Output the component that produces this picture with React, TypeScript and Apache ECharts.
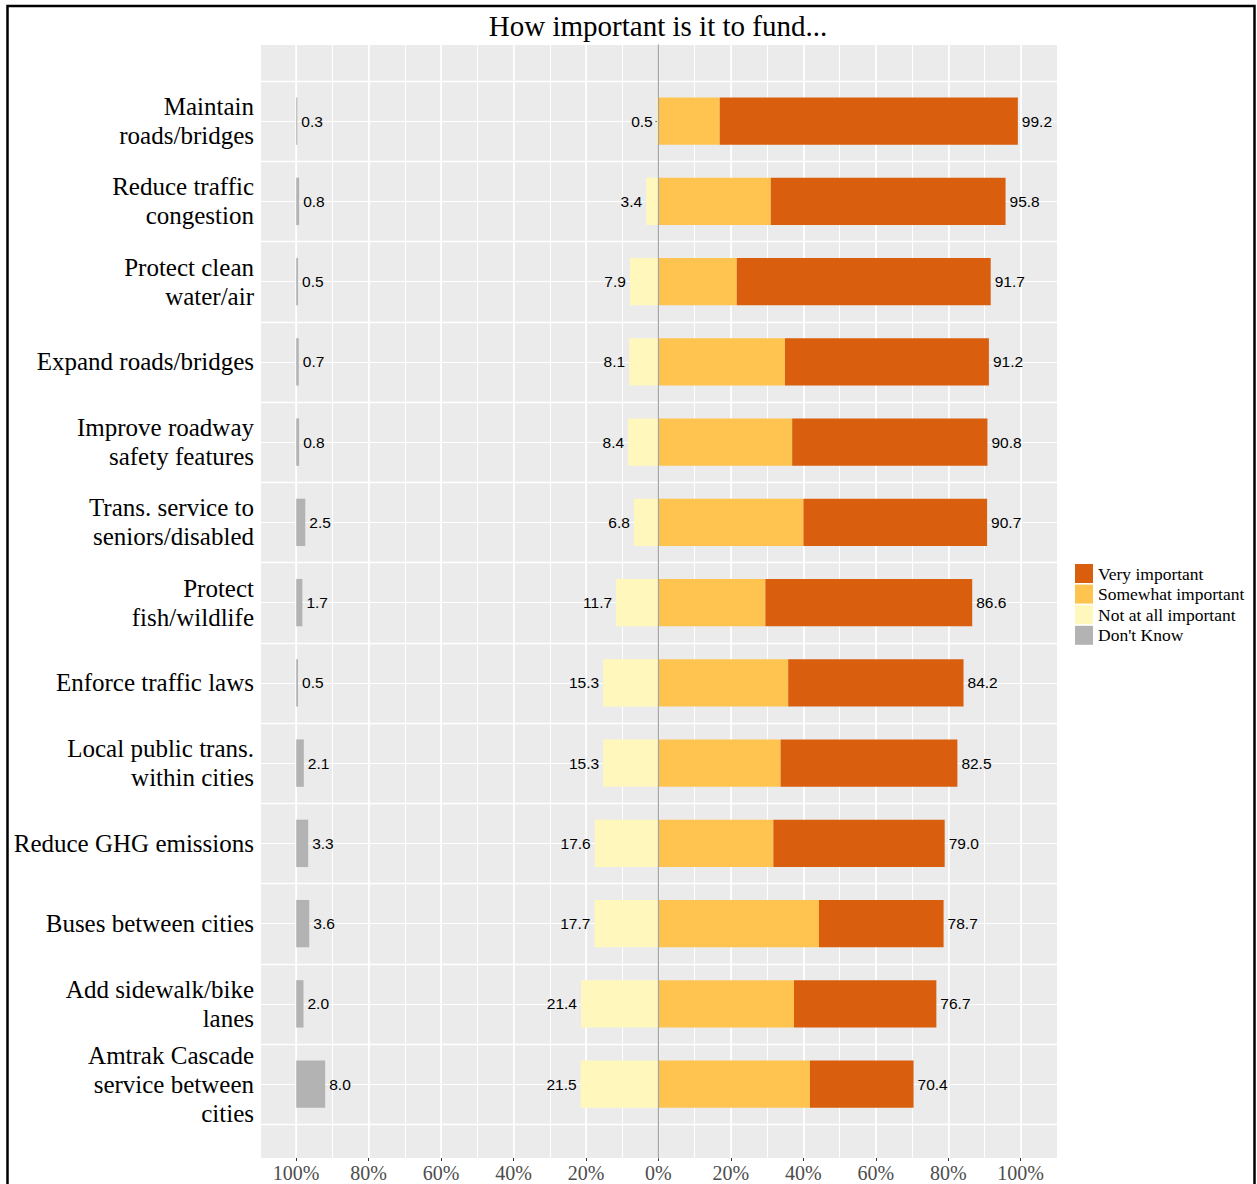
import React, { useEffect, useRef } from "react";
import * as echarts from "echarts";

const categories = [
  "Maintain\nroads/bridges",
  "Reduce traffic\ncongestion",
  "Protect clean\nwater/air",
  "Expand roads/bridges",
  "Improve roadway\nsafety features",
  "Trans. service to\nseniors/disabled",
  "Protect\nfish/wildlife",
  "Enforce traffic laws",
  "Local public trans.\nwithin cities",
  "Reduce GHG emissions",
  "Buses between cities",
  "Add sidewalk/bike\nlanes",
  "Amtrak Cascade\nservice between\ncities",
];
const dontKnow = [0.3, 0.8, 0.5, 0.7, 0.8, 2.5, 1.7, 0.5, 2.1, 3.3, 3.6, 2.0, 8.0];
const notAtAll = [0.5, 3.4, 7.9, 8.1, 8.4, 6.8, 11.7, 15.3, 15.3, 17.6, 17.7, 21.4, 21.5];
const somewhat = [16.9, 31.0, 21.6, 34.9, 36.9, 40.0, 29.5, 35.8, 33.7, 31.7, 44.3, 37.4, 41.8];
const veryImportant = [82.3, 64.8, 70.1, 56.3, 53.9, 50.7, 57.1, 48.4, 48.8, 47.3, 34.4, 39.3, 28.6];
const importantTotal = [99.2, 95.8, 91.7, 91.2, 90.8, 90.7, 86.6, 84.2, 82.5, 79.0, 78.7, 76.7, 70.4];
const xTickValues = [-100, -80, -60, -40, -20, 0, 20, 40, 60, 80, 100];
const xTickLabels = ["100%", "80%", "60%", "40%", "20%", "0%", "20%", "40%", "60%", "80%", "100%"];
const legendNames = ["Very important", "Somewhat important", "Not at all important", "Don't Know"];

const COLORS = {
  very: "#D95F0E",
  somewhat: "#FEC44F",
  notAtAll: "#FFF7BC",
  dk: "#B3B3B3",
};

const SERIF = "'Liberation Serif', 'Times New Roman', serif";
const SANS = "'Liberation Sans', Arial, sans-serif";

export default function App() {
  const ref = useRef<HTMLDivElement>(null);

  useEffect(() => {
    if (!ref.current) return;
    const chart = echarts.init(ref.current, null, { renderer: "svg" });

    const valueLabel = {
      show: true,
      fontFamily: SANS,
      fontSize: 15.5,
      color: "#000000",
      distance: 4,
    };

    const barCommon = {
      type: "bar" as const,
      xAxisIndex: 2,
      yAxisIndex: 2,
      barWidth: "59%",
      barGap: "-100%",
      silent: true,
    };

    const option: any = {
      animation: false,
      backgroundColor: "#FFFFFF",
      title: {
        text: "How important is it to fund...",
        left: 658,
        top: 11,
        padding: 0,
        textAlign: "center",
        textStyle: {
          fontFamily: SERIF,
          fontSize: 29,
          fontWeight: "normal",
          color: "#000000",
        },
      },
      legend: {
        data: legendNames,
        orient: "vertical",
        left: 1075,
        top: 564,
        padding: 0,
        itemWidth: 18,
        itemHeight: 19,
        itemGap: 1.6,
        icon: "rect",
        selectedMode: false,
        textStyle: {
          fontFamily: SERIF,
          fontSize: 17.5,
          color: "#000000",
        },
      },
      grid: [
        { left: 260, top: 45, width: 797, height: 1113, show: true, backgroundColor: "#EBEBEB", borderWidth: 0 },
        { left: 296.2, top: 45, width: 724.5, height: 1113 },
        { left: 260, top: 81, width: 797, height: 1043.25 },
        { left: 260, top: 121.1, width: 797, height: 963 },
      ],
      xAxis: [
        {
          gridIndex: 0,
          type: "value",
          min: -110,
          max: 110,
          interval: 10,
          axisLabel: { show: false },
          axisTick: { show: false },
          axisLine: { show: false },
          splitLine: { show: true, lineStyle: { color: "#FFFFFF", width: 1 } },
        },
        {
          gridIndex: 1,
          type: "value",
          min: -100,
          max: 100,
          interval: 20,
          axisLine: { show: false },
          axisTick: { show: true, length: 3, lineStyle: { color: "#333333", width: 1 } },
          axisLabel: {
            show: true,
            margin: 5,
            fontFamily: SERIF,
            fontSize: 20,
            color: "#4D4D4D",
            formatter: (v: number) => {
              const i = xTickValues.indexOf(Math.round(v));
              return i >= 0 ? xTickLabels[i] : "";
            },
          },
          splitLine: { show: true, lineStyle: { color: "#FFFFFF", width: 1.6 } },
        },
        {
          gridIndex: 2,
          type: "value",
          min: -110,
          max: 110,
          axisLabel: { show: false },
          axisTick: { show: false },
          axisLine: { show: false },
          splitLine: { show: false },
        },
        {
          gridIndex: 3,
          type: "value",
          min: -110,
          max: 110,
          axisLabel: { show: false },
          axisTick: { show: false },
          axisLine: { show: false },
          splitLine: { show: false },
        },
      ],
      yAxis: [
        {
          gridIndex: 0,
          type: "value",
          min: 0,
          max: 1,
          z: 5,
          axisLine: { show: true, onZero: true, lineStyle: { color: "#A6A6A6", width: 1.3 } },
          axisLabel: { show: false },
          axisTick: { show: false },
          splitLine: { show: false },
        },
        {
          gridIndex: 1,
          type: "value",
          min: 0,
          max: 1,
          axisLine: { show: false },
          axisLabel: { show: false },
          axisTick: { show: false },
          splitLine: { show: false },
        },
        {
          gridIndex: 2,
          type: "category",
          inverse: true,
          data: categories,
          axisLine: { show: false },
          axisTick: {
            show: true,
            alignWithLabel: true,
            interval: 0,
            length: 3,
            lineStyle: { color: "#333333", width: 1 },
          },
          axisLabel: {
            show: true,
            interval: 0,
            margin: 6,
            fontFamily: SERIF,
            fontSize: 25,
            lineHeight: 29,
            color: "#000000",
            align: "right",
          },
          splitLine: { show: true, interval: 0, lineStyle: { color: "#FFFFFF", width: 1.3 } },
        },
        {
          gridIndex: 3,
          type: "category",
          inverse: true,
          boundaryGap: false,
          data: categories,
          axisLine: { show: false },
          axisTick: { show: false },
          axisLabel: { show: false },
          splitLine: { show: true, interval: 0, lineStyle: { color: "#FFFFFF", width: 1 } },
        },
      ],
      series: [
        {
          ...barCommon,
          name: "dkBase",
          stack: "dk",
          data: dontKnow.map((v) => -(100 - v)),
          itemStyle: { color: "rgba(0,0,0,0)" },
          label: {
            ...valueLabel,
            position: "insideLeft",
            formatter: (p: any) => dontKnow[p.dataIndex].toFixed(1),
          },
        },
        {
          ...barCommon,
          name: "Don't Know",
          stack: "dk",
          data: dontKnow.map((v) => -v),
          itemStyle: { color: COLORS.dk },
        },
        {
          ...barCommon,
          name: "Not at all important",
          stack: "main",
          data: notAtAll.map((v) => -v),
          itemStyle: { color: COLORS.notAtAll },
          label: {
            ...valueLabel,
            position: "left",
            formatter: (p: any) => notAtAll[p.dataIndex].toFixed(1),
          },
        },
        {
          ...barCommon,
          name: "Somewhat important",
          stack: "main",
          data: somewhat,
          itemStyle: { color: COLORS.somewhat },
        },
        {
          ...barCommon,
          name: "Very important",
          stack: "main",
          data: veryImportant,
          itemStyle: { color: COLORS.very },
          label: {
            ...valueLabel,
            position: "right",
            formatter: (p: any) => importantTotal[p.dataIndex].toFixed(1),
          },
        },
      ],
      graphic: [
        {
          type: "rect",
          silent: true,
          z: 100,
          shape: { x: 7.5, y: 6, width: 1247, height: 1200 },
          style: { fill: "none", stroke: "#000000", lineWidth: 2.5 },
        },
      ],
    };

    chart.setOption(option);
    return () => chart.dispose();
  }, []);

  return (
    <div
      ref={ref}
      style={{ position: "absolute", left: 0, top: 0, width: 1257, height: 1184 }}
    />
  );
}
